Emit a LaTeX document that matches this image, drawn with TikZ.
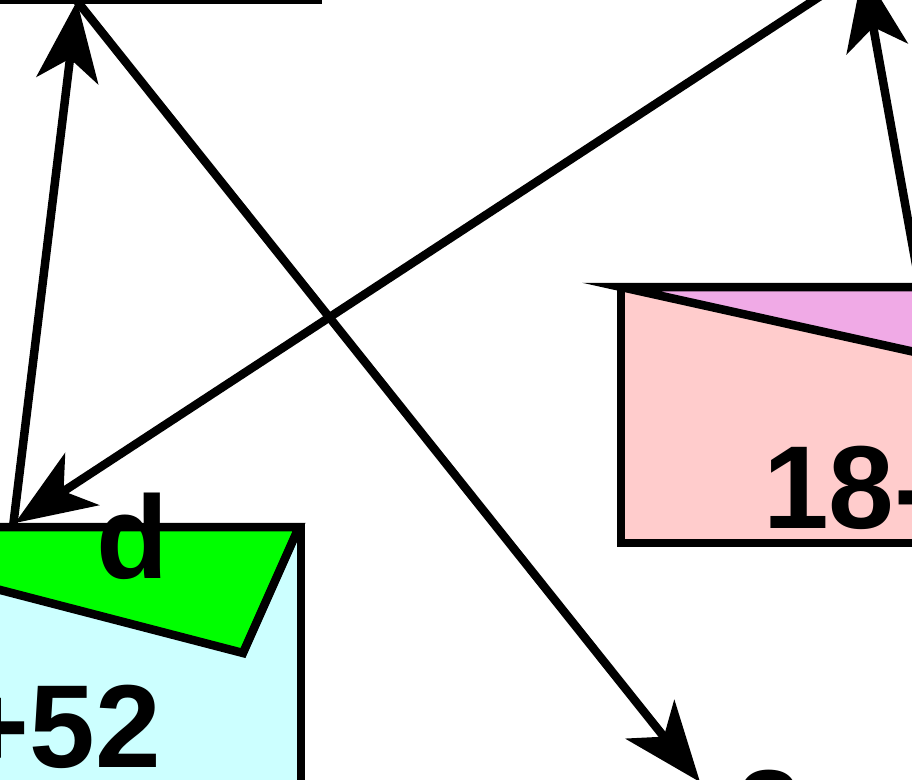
\documentclass[tikz,border=0pt]{standalone}
\usepackage{fontspec}
\setmainfont{Liberation Sans}
\usetikzlibrary{arrows.meta}
\definecolor{cyanfill}{RGB}{204,255,255}
\definecolor{greenfill}{RGB}{0,255,0}
\definecolor{pinkfill}{RGB}{255,204,204}
\definecolor{violetfill}{RGB}{240,170,230}
\tikzset{
  boxline/.style={draw=black,line width=8.5pt},
  conn/.style={draw=black,line width=8.5pt,-{Stealth[length=80pt,width=62pt,inset=22pt]}},
  bigtxt/.style={font=\fontsize{118}{120}\bfseries\selectfont,inner sep=0pt},
}
\begin{document}
\begin{tikzpicture}[x=1pt,y=-1pt]
\useasboundingbox (0,0) rectangle (912,779);
\clip (0,0) rectangle (912,779);
% top-left box (only bottom edge visible)
\draw[boxline,fill=white] (-100,-200) rectangle (318,-0.5);
% bottom-left box
\draw[boxline,fill=cyanfill] (-100,527) rectangle (301,1000);
\draw[boxline,fill=greenfill] (-200,527) -- (299,527) -- (243,653) -- (-200,538) -- cycle;
\node[bigtxt,anchor=base west] (dlab) at (96,578) {d};
\node[bigtxt,anchor=base east] (num52) at (161,767) {+52};
% right box
\draw[boxline,fill=pinkfill] (621,287) rectangle (1100,543);
\draw[boxline,fill=violetfill] (621,287) -- (1100,287) -- (1100,393) -- cycle;
\node[bigtxt,anchor=base west] (num18) at (763,528) {18-};
% bottom partial label
\node[bigtxt,anchor=base west] (numb) at (736,852) {2};
% connectors
\coordinate (tlport) at (77,1);
\coordinate (blport) at (13,527);
\coordinate (bltip) at (15,523);
\coordinate (trsrc) at (848,-22);
\coordinate (rtop) at (920,287);
\coordinate (rtip) at (863,-30);
\coordinate (btip) at (700,782);
\draw[conn] (blport) -- (tlport);
\draw[conn] (tlport) -- (btip);
\draw[conn] (trsrc) -- (bltip);
\draw[conn] (rtop) -- (rtip);
\end{tikzpicture}
\end{document}
